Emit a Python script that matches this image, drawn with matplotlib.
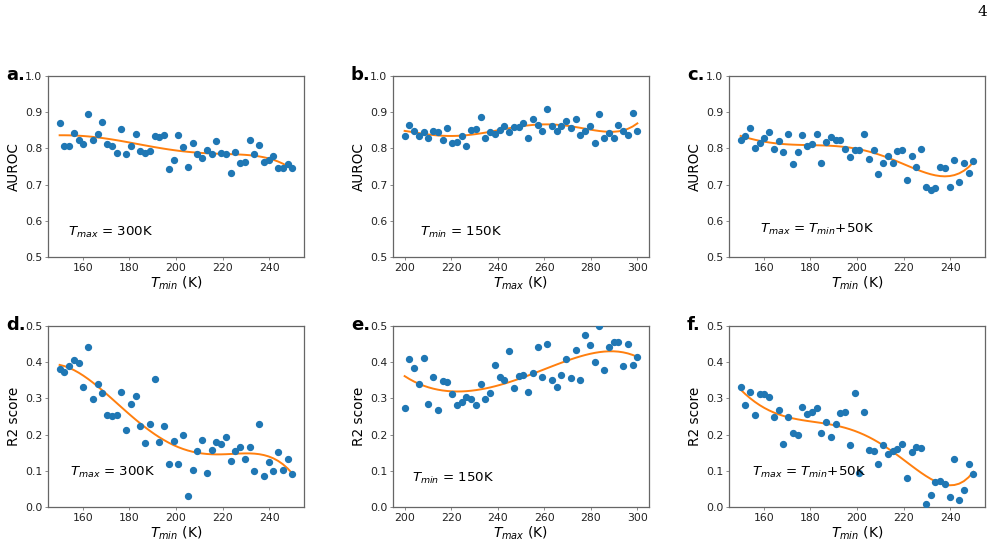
import numpy as np
import matplotlib.pyplot as plt

plt.rcParams.update({'font.size': 9})

# temperature grids
tmin_grid = np.linspace(150, 250, 50)
tmax_grid = np.linspace(200, 300, 50)

# AUROC values
auroc_a = [0.870, 0.807, 0.808, 0.842, 0.824, 0.813, 0.895, 0.824, 0.839, 0.872,
           0.811, 0.807, 0.786, 0.854, 0.785, 0.808, 0.839, 0.792, 0.787, 0.792,
           0.835, 0.831, 0.836, 0.743, 0.768, 0.838, 0.803, 0.750, 0.816, 0.784,
           0.773, 0.795, 0.784, 0.821, 0.787, 0.784, 0.731, 0.791, 0.761, 0.762,
           0.823, 0.784, 0.810, 0.762, 0.769, 0.780, 0.746, 0.746, 0.757, 0.746]
auroc_b = [0.835, 0.864, 0.849, 0.833, 0.844, 0.828, 0.848, 0.844, 0.824, 0.857,
           0.815, 0.819, 0.835, 0.806, 0.850, 0.853, 0.888, 0.829, 0.845, 0.840,
           0.851, 0.862, 0.845, 0.858, 0.860, 0.869, 0.828, 0.881, 0.865, 0.847,
           0.909, 0.863, 0.849, 0.861, 0.876, 0.857, 0.882, 0.838, 0.849, 0.861,
           0.815, 0.896, 0.830, 0.842, 0.828, 0.865, 0.849, 0.836, 0.899, 0.849]
auroc_c = [0.822, 0.834, 0.856, 0.800, 0.815, 0.829, 0.845, 0.798, 0.821, 0.791,
           0.839, 0.758, 0.791, 0.837, 0.807, 0.813, 0.841, 0.759, 0.818, 0.832,
           0.824, 0.822, 0.797, 0.775, 0.795, 0.796, 0.839, 0.772, 0.795, 0.729,
           0.759, 0.780, 0.759, 0.793, 0.796, 0.712, 0.778, 0.750, 0.798, 0.693,
           0.686, 0.690, 0.749, 0.746, 0.693, 0.767, 0.706, 0.759, 0.731, 0.766]

# R2 values
r2_d = [0.380, 0.373, 0.390, 0.407, 0.399, 0.331, 0.442, 0.297, 0.340, 0.315,
        0.254, 0.251, 0.253, 0.319, 0.212, 0.284, 0.306, 0.224, 0.178, 0.229,
        0.354, 0.180, 0.224, 0.119, 0.183, 0.119, 0.199, 0.030, 0.103, 0.156,
        0.186, 0.095, 0.158, 0.179, 0.175, 0.193, 0.127, 0.155, 0.167, 0.133,
        0.167, 0.100, 0.229, 0.087, 0.124, 0.099, 0.152, 0.103, 0.132, 0.091]
r2_e = [0.273, 0.408, 0.385, 0.339, 0.412, 0.285, 0.358, 0.269, 0.349, 0.346,
        0.313, 0.282, 0.291, 0.304, 0.299, 0.281, 0.341, 0.299, 0.315, 0.393,
        0.358, 0.351, 0.430, 0.328, 0.362, 0.364, 0.318, 0.370, 0.441, 0.358,
        0.449, 0.350, 0.332, 0.364, 0.410, 0.355, 0.435, 0.351, 0.475, 0.448,
        0.401, 0.500, 0.379, 0.441, 0.455, 0.456, 0.389, 0.451, 0.393, 0.414]
r2_f = [0.332, 0.281, 0.319, 0.254, 0.313, 0.311, 0.305, 0.250, 0.269, 0.174,
        0.249, 0.204, 0.198, 0.277, 0.257, 0.263, 0.274, 0.204, 0.236, 0.192,
        0.228, 0.261, 0.263, 0.171, 0.314, 0.095, 0.263, 0.158, 0.156, 0.120,
        0.171, 0.147, 0.154, 0.161, 0.173, 0.079, 0.151, 0.167, 0.164, 0.007,
        0.033, 0.069, 0.071, 0.064, 0.029, 0.133, 0.020, 0.046, 0.119, 0.090]

panels = [
    ('a.', tmin_grid, auroc_a, r'$T_{min}$ (K)', 'AUROC', r'$T_{max}$ = 300K', (0.08, 0.135)),
    ('b.', tmax_grid, auroc_b, r'$T_{max}$ (K)', 'AUROC', r'$T_{min}$ = 150K', (0.105, 0.135)),
    ('c.', tmin_grid, auroc_c, r'$T_{min}$ (K)', 'AUROC', r'$T_{max}$ = $T_{min}$+50K', (0.12, 0.15)),
    ('d.', tmin_grid, r2_d, r'$T_{min}$ (K)', 'R2 score', r'$T_{max}$ = 300K', (0.085, 0.19)),
    ('e.', tmax_grid, r2_e, r'$T_{max}$ (K)', 'R2 score', r'$T_{min}$ = 150K', (0.075, 0.155)),
    ('f.', tmin_grid, r2_f, r'$T_{min}$ (K)', 'R2 score', r'$T_{max}$ = $T_{min}$+50K', (0.09, 0.19)),
]

fig = plt.figure(figsize=(10.02, 5.41), dpi=100)
W, H = 1002, 541
lefts = [48, 393, 729]
tops = [76, 326]
aw, ah = 256, 181

for i, (lab, x, y, xl, yl, note, pos) in enumerate(panels):
    r, c = divmod(i, 3)
    ax = fig.add_axes([lefts[c] / W, 1 - (tops[r] + ah) / H, aw / W, ah / H])
    y = np.array(y)
    ax.scatter(x, y, s=18, color='C0', zorder=3)
    coef = np.polyfit(x, y, 5)
    ax.plot(x, np.polyval(coef, x), color='C1', lw=1.4, zorder=2)
    if r == 0:
        ax.set_ylim(0.5, 1.0)
        ax.set_yticks([0.5, 0.6, 0.7, 0.8, 0.9, 1.0])
    else:
        ax.set_ylim(0.0, 0.5)
        ax.set_yticks([0.0, 0.1, 0.2, 0.3, 0.4, 0.5])
    if x[0] == 150:
        ax.set_xticks([160, 180, 200, 220, 240])
    else:
        ax.set_xticks([200, 220, 240, 260, 280, 300])
    ax.tick_params(length=2.5, width=0.6, pad=1.5, labelsize=7.8,
                   color='#777777', labelcolor='#222222')
    for s in ax.spines.values():
        s.set_color('#666666')
        s.set_linewidth(0.9)
    ax.set_xlabel(xl, fontsize=10, labelpad=1.5)
    ax.set_ylabel(yl, fontsize=9.8, labelpad=3)
    ax.text(pos[0], pos[1], note, transform=ax.transAxes, fontsize=9.6, va='center')
    fig.text((lefts[c] - 42) / W, 1 - (tops[r] - 1) / H, lab, fontsize=13,
             fontweight='bold', va='center')

fig.text(978 / W, 1 - 12 / H, '4', fontsize=11, family='DejaVu Serif', va='center')

plt.savefig('out.png', dpi=100)
